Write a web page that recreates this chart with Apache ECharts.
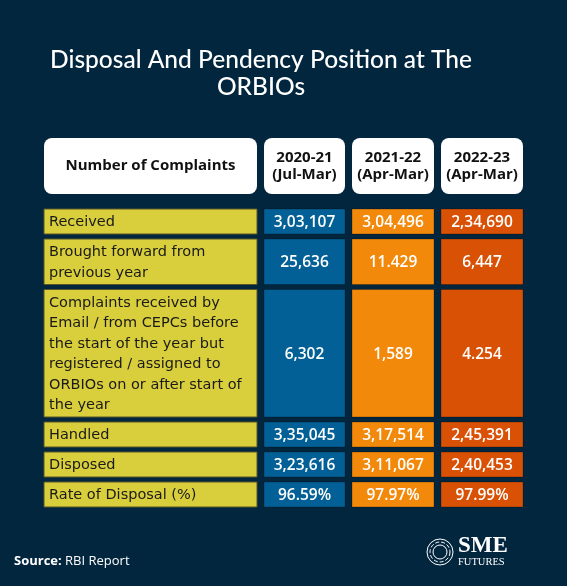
<!DOCTYPE html>
<html>
<head>
<meta charset="utf-8">
<script src="https://cdn.jsdelivr.net/npm/echarts@6/dist/echarts.min.js"></script>
<style>
html,body{margin:0;padding:0;background:#03263f;}
#chart{width:567px;height:586px;}
</style>
</head>
<body>
<div id="chart"></div>
<script>
// ---- data ----
var titleText = 'Disposal And Pendency Position at The\nORBIOs';
var headerLabel = 'Number of Complaints';
var periods = ['2020-21\n(Jul-Mar)', '2021-22\n(Apr-Mar)', '2022-23\n(Apr-Mar)'];
var rowLabels = [
  'Received',
  'Brought forward from\nprevious year',
  'Complaints received by\nEmail / from CEPCs before\nthe start of the year but\nregistered / assigned to\nORBIOs on or after start of\nthe year',
  'Handled',
  'Disposed',
  'Rate of Disposal (%)'
];
var values2020 = ['3,03,107', '25,636', '6,302', '3,35,045', '3,23,616', '96.59%'];
var values2021 = ['3,04,496', '11.429', '1,589', '3,17,514', '3,11,067', '97.97%'];
var values2022 = ['2,34,690', '6,447', '4.254', '2,45,391', '2,40,453', '97.99%'];

// ---- layout (units on hidden axes) ----
var colW = [213, 81, 82, 82];
var colGap = 7;
var headerH = 56, headerGap = 15, rowGap = 5, lineH = 20.5, rowPad = 4.5;
var colColors = ['#d9cf3c', '#036096', '#f2890a', '#d95104'];

var colBounds = [];
var cx = 0;
colW.forEach(function (w) { colBounds.push([cx, cx + w]); cx += w + colGap; });
var totalW = cx - colGap;

var rowBounds = [[0, headerH]];
var cy = headerH + headerGap;
rowLabels.forEach(function (l) {
  var n = l.split('\n').length;
  var h = n * lineH + rowPad;
  rowBounds.push([cy, cy + h]);
  cy += h + rowGap;
});
var totalH = cy - rowGap;

var valueCols = [values2020, values2021, values2022];
var cells = [];
cells.push([0, 0, headerLabel]);
periods.forEach(function (p, i) { cells.push([i + 1, 0, p]); });
rowLabels.forEach(function (l, r) {
  cells.push([0, r + 1, l]);
  valueCols.forEach(function (vals, c) { cells.push([c + 1, r + 1, vals[r]]); });
});

var FONT = '"Open Sans", sans-serif';
var LABEL_FONT = '"DejaVu Sans", sans-serif';

function renderItem(params, api) {
  var col = api.value(0), row = api.value(1);
  var txt = cells[params.dataIndex][2];
  var cb = colBounds[col], rb = rowBounds[row];
  var p0 = api.coord([cb[0], rb[0]]);
  var p1 = api.coord([cb[1], rb[1]]);
  var x = Math.min(p0[0], p1[0]), y = Math.min(p0[1], p1[1]);
  var w = Math.abs(p1[0] - p0[0]), h = Math.abs(p1[1] - p0[1]);
  var header = row === 0;
  var fill = header ? '#ffffff' : colColors[col];
  var stroke = header ? null : (col === 0 ? '#5b5526' : 'rgba(0,0,0,0.25)');
  var textStyle;
  if (header) {
    textStyle = {
      x: x + w / 2, y: y + h / 2, text: txt, align: 'center', verticalAlign: 'middle',
      fill: '#111111', font: 'bold 15px ' + FONT, lineHeight: 17
    };
  } else if (col === 0) {
    textStyle = {
      x: x + 5, y: y + h / 2 + 1, text: txt, align: 'left', verticalAlign: 'middle',
      fill: '#1a1a1a', font: '14.5px ' + LABEL_FONT, lineHeight: lineH
    };
  } else {
    textStyle = {
      x: x + w / 2, y: y + h / 2 + 1, text: txt, align: 'center', verticalAlign: 'middle',
      fill: '#ffffff', font: '600 15.5px ' + FONT, lineHeight: lineH
    };
  }
  return {
    type: 'group',
    children: [
      {
        type: 'rect',
        shape: { x: x, y: y, width: w, height: h, r: header ? 8 : 0 },
        style: { fill: fill, stroke: stroke, lineWidth: stroke ? 1 : 0 }
      },
      { type: 'text', style: textStyle }
    ]
  };
}

var chart = echarts.init(document.getElementById('chart'), null, { renderer: 'canvas' });
chart.setOption({
  backgroundColor: '#03263f',
  animation: false,
  grid: { left: 44, top: 138, width: totalW, height: totalH },
  xAxis: { type: 'value', min: 0, max: totalW, show: false },
  yAxis: { type: 'value', min: 0, max: totalH, inverse: true, show: false },
  series: [{
    type: 'custom',
    renderItem: renderItem,
    encode: { x: 0, y: 1 },
    data: cells.map(function (c) { return [c[0], c[1]]; }),
    clip: false
  }],
  graphic: [
    {
      type: 'text', x: 261, y: 47,
      style: {
        text: titleText, align: 'center', verticalAlign: 'top',
        fill: '#ffffff', font: '500 24.5px Lato, sans-serif', lineHeight: 27
      }
    },
    {
      type: 'text', left: 14, top: 555,
      style: {
        text: '{b|Source:} {r|RBI Report}',
        rich: {
          b: { fill: '#ffffff', font: 'bold 13px ' + FONT },
          r: { fill: '#ffffff', font: '13px ' + FONT }
        }
      }
    },
    { type: 'circle', shape: { cx: 440, cy: 552, r: 13 }, style: { fill: 'none', stroke: '#ffffff', lineWidth: 1 } },
    { type: 'circle', shape: { cx: 440, cy: 552, r: 10 }, style: { fill: 'none', stroke: '#ffffff', lineWidth: 1, lineDash: [4, 2] } },
    { type: 'circle', shape: { cx: 440, cy: 552, r: 7 }, style: { fill: 'none', stroke: '#ffffff', lineWidth: 1 } },
    { type: 'text', left: 458, top: 535, style: { text: 'SME', fill: '#ffffff', font: 'bold 23px "Liberation Serif", serif' } },
    { type: 'text', left: 458, top: 557, style: { text: 'FUTURES', fill: '#ffffff', font: '10.5px "Liberation Serif", serif' } }
  ]
});
</script>
</body>
</html>
